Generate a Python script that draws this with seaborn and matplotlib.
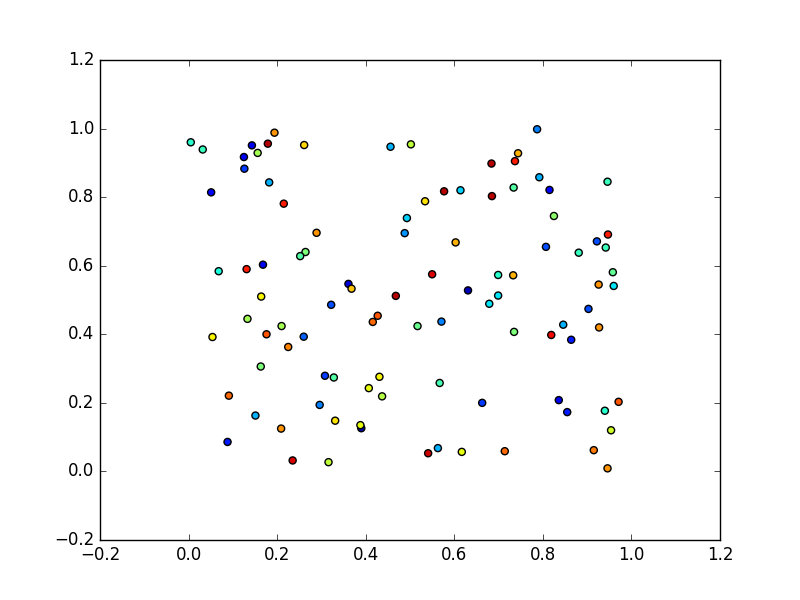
import pandas as pd
import matplotlib
matplotlib.use("Agg")
import matplotlib.pyplot as plt
import seaborn as sns

# values
x_vals = [0.005, 0.032, 0.143, 0.194, 0.179, 0.261, 0.456, 0.125, 0.156, 0.126,
          0.182, 0.051, 0.215, 0.289, 0.493, 0.488, 0.264, 0.252, 0.068, 0.131,
          0.168, 0.361, 0.368, 0.468, 0.164, 0.502, 0.787, 0.744, 0.684, 0.737,
          0.792, 0.815, 0.946, 0.577, 0.614, 0.734, 0.685, 0.534, 0.825, 0.603,
          0.807, 0.881, 0.922, 0.947, 0.942, 0.958, 0.926, 0.960, 0.550, 0.699,
          0.733, 0.631, 0.699, 0.322, 0.427, 0.416, 0.133, 0.210, 0.054, 0.176,
          0.260, 0.225, 0.163, 0.308, 0.328, 0.431, 0.407, 0.437, 0.091, 0.296,
          0.151, 0.209, 0.331, 0.390, 0.388, 0.088, 0.235, 0.316, 0.679, 0.903,
          0.517, 0.571, 0.735, 0.846, 0.927, 0.819, 0.864, 0.567, 0.663, 0.836,
          0.855, 0.971, 0.940, 0.954, 0.563, 0.541, 0.617, 0.714, 0.915, 0.946]
y_vals = [0.960, 0.939, 0.951, 0.988, 0.956, 0.952, 0.947, 0.917, 0.929, 0.883,
          0.843, 0.814, 0.781, 0.696, 0.739, 0.695, 0.640, 0.628, 0.584, 0.590,
          0.603, 0.547, 0.533, 0.512, 0.510, 0.954, 0.998, 0.928, 0.898, 0.905,
          0.858, 0.821, 0.845, 0.817, 0.820, 0.828, 0.803, 0.788, 0.745, 0.668,
          0.655, 0.638, 0.671, 0.691, 0.653, 0.581, 0.545, 0.541, 0.575, 0.573,
          0.572, 0.528, 0.513, 0.486, 0.454, 0.436, 0.445, 0.424, 0.392, 0.400,
          0.393, 0.363, 0.306, 0.279, 0.274, 0.276, 0.243, 0.219, 0.221, 0.194,
          0.163, 0.125, 0.148, 0.126, 0.135, 0.086, 0.032, 0.027, 0.489, 0.474,
          0.424, 0.437, 0.407, 0.428, 0.420, 0.398, 0.384, 0.258, 0.200, 0.208,
          0.173, 0.203, 0.177, 0.120, 0.068, 0.053, 0.057, 0.059, 0.062, 0.009]
c_vals = [0.40, 0.42, 0.10, 0.75, 0.95, 0.68, 0.30, 0.10, 0.55, 0.18,
          0.30, 0.12, 0.88, 0.75, 0.33, 0.27, 0.50, 0.45, 0.38, 0.88,
          0.10, 0.08, 0.70, 0.95, 0.65, 0.58, 0.25, 0.72, 0.95, 0.88,
          0.30, 0.12, 0.42, 0.95, 0.33, 0.45, 0.95, 0.67, 0.52, 0.72,
          0.20, 0.42, 0.20, 0.88, 0.42, 0.47, 0.75, 0.35, 0.92, 0.40,
          0.72, 0.05, 0.35, 0.20, 0.82, 0.80, 0.55, 0.55, 0.65, 0.82,
          0.22, 0.77, 0.50, 0.18, 0.45, 0.65, 0.63, 0.57, 0.80, 0.25,
          0.30, 0.75, 0.67, 0.05, 0.63, 0.15, 0.92, 0.58, 0.35, 0.20,
          0.48, 0.25, 0.50, 0.30, 0.75, 0.90, 0.15, 0.43, 0.18, 0.10,
          0.15, 0.82, 0.40, 0.60, 0.30, 0.93, 0.63, 0.80, 0.78, 0.75]

df = pd.DataFrame({'x': x_vals, 'y': y_vals, 'c': c_vals})

plt.style.use('classic')

fig, ax = plt.subplots(figsize=(8, 6), dpi=100)
sns.scatterplot(
    data=df,
    x='x',
    y='y',
    hue='c',
    palette=matplotlib.colormaps['jet'],
    hue_norm=(0, 1),
    s=26,
    edgecolor='black',
    linewidth=1,
    legend=False,
    ax=ax
)

ax.set_xlim(-0.2, 1.2)
ax.set_ylim(-0.2, 1.2)
ax.set_xlabel('')
ax.set_ylabel('')

fig.savefig('out.png', dpi=100, facecolor='white')
